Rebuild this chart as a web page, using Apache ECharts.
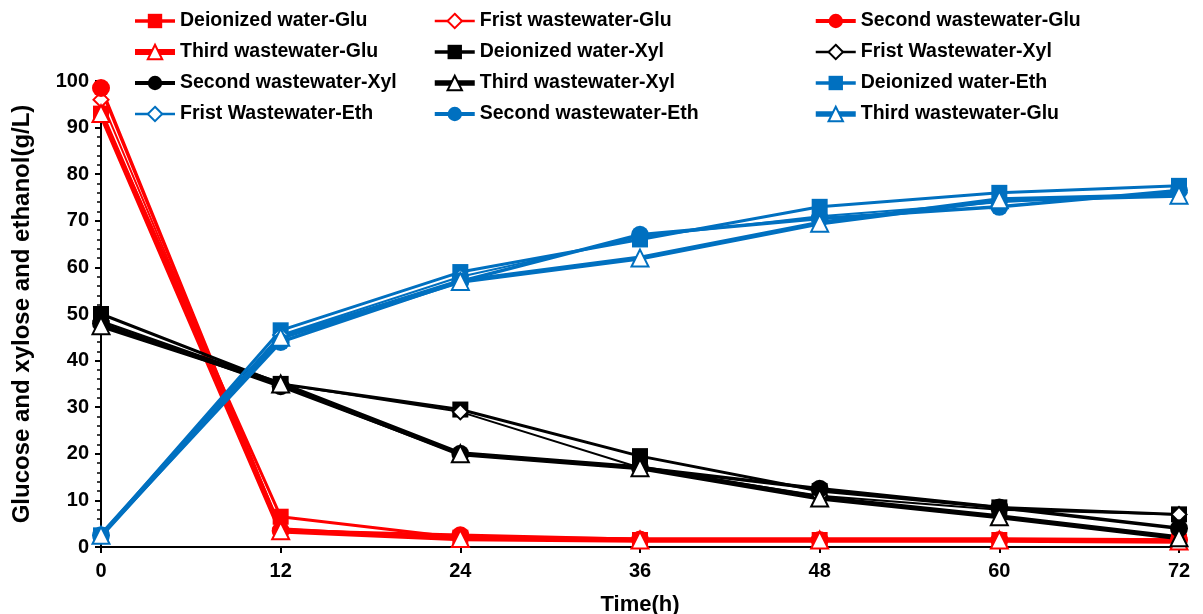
<!DOCTYPE html>
<html>
<head>
<meta charset="utf-8">
<script src="https://cdn.jsdelivr.net/npm/echarts@6/dist/echarts.min.js"></script>
<style>html,body{margin:0;padding:0;background:#fff}#c{width:1203px;height:614px}</style>
</head>
<body>
<div id="c"></div>
<script>
const hours = [0, 12, 24, 36, 48, 60, 72];
const xTicks = [0, 12, 24, 36, 48, 60, 72];
const yTicks = [0, 10, 20, 30, 40, 50, 60, 70, 80, 90, 100];

const gluDeionized = [93, 6.5, 2, 1.5, 1.5, 1.5, 1.2];
const gluFirst = [96, 4, 1.8, 1.5, 1.5, 1.5, 1.5];
const gluSecond = [98.5, 3.5, 2.5, 1.6, 1.5, 1.5, 1.5];
const gluThird = [93, 3.5, 1.8, 1.5, 1.5, 1.5, 1.3];

const xylDeionized = [50, 35, 29.5, 19.5, 12, 8.5, 7];
const xylFirst = [48.5, 35, 29, 17, 11, 8, 7];
const xylSecond = [48, 34.5, 20, 17, 12.5, 8.5, 4];
const xylThird = [47.5, 35, 20, 17, 10.5, 6.5, 2];

const ethDeionized = [2.5, 46.5, 59, 66, 73, 76, 77.5];
const ethFirst = [2.5, 45.5, 58, 66.5, 71, 74, 76];
const ethSecond = [2.5, 44, 57, 67, 70.5, 73, 76.5];
const ethThird = [2.5, 45, 57, 62, 69.5, 74.5, 75.5];

const RED = '#FF0000', BLACK = '#000000', BLUE = '#0070C0';
const FONT = 'Liberation Sans, Arial, sans-serif';

function pts(arr) { return hours.map((h, i) => [h, arr[i]]); }

const widths = {};
function mk(name, arr, color, kind, lw) {
  let symbol, size, filled = true;
  if (kind === 'sq') { symbol = 'rect'; size = 16; }
  else if (kind === 'ci') { symbol = 'circle'; size = 18; }
  else if (kind === 'di') { symbol = 'diamond'; size = 15; filled = false; }
  else { symbol = 'triangle'; size = 17; filled = false; }
  widths[name] = lw;
  return {
    name: name, type: 'line', data: pts(arr),
    symbol: symbol, symbolSize: size,
    lineStyle: { color: color, width: lw },
    itemStyle: { color: filled ? color : '#ffffff', borderColor: color, borderWidth: filled ? 0 : 2 },
    emphasis: { disabled: true },
    animation: false, z: 2
  };
}

const series = [
  mk('Deionized water-Glu', gluDeionized, RED, 'sq', 3),
  mk('Frist wastewater-Glu', gluFirst, RED, 'di', 2),
  mk('Second wastewater-Glu', gluSecond, RED, 'ci', 3.5),
  mk('Third wastewater-Glu', gluThird, RED, 'tr', 5.5),
  mk('Deionized water-Xyl', xylDeionized, BLACK, 'sq', 3),
  mk('Frist Wastewater-Xyl', xylFirst, BLACK, 'di', 2),
  mk('Second wastewater-Xyl', xylSecond, BLACK, 'ci', 3.5),
  mk('Third wastewater-Xyl', xylThird, BLACK, 'tr', 5),
  mk('Deionized water-Eth', ethDeionized, BLUE, 'sq', 3),
  mk('Frist Wastewater-Eth', ethFirst, BLUE, 'di', 2),
  mk('Second wastewater-Eth', ethSecond, BLUE, 'ci', 3.5),
  mk('Third wastewater-Glu ', ethThird, BLUE, 'tr', 5)
];

const legendText = { color: '#000', fontFamily: FONT, fontWeight: 'bold', fontSize: 19.5 };
function lg(left, names) {
  return {
    orient: 'vertical', left: left, top: 6, itemWidth: 40, itemHeight: 18, itemGap: 11,
    data: names.map(n => ({ name: n, lineStyle: { width: widths[n] + 0.5 } })),
    textStyle: legendText, selectedMode: false
  };
}

const chart = echarts.init(document.getElementById('c'), null, { renderer: 'canvas' });
chart.setOption({
  backgroundColor: '#ffffff',
  animation: false,
  grid: { left: 101, right: 24, top: 81, bottom: 67, outerBoundsMode: 'none', containLabel: false },
  legend: [
    lg(127, ['Deionized water-Glu', 'Third wastewater-Glu', 'Second wastewater-Xyl', 'Frist Wastewater-Eth']),
    lg(427, ['Frist wastewater-Glu', 'Deionized water-Xyl', 'Third wastewater-Xyl', 'Second wastewater-Eth']),
    lg(808, ['Second wastewater-Glu', 'Frist Wastewater-Xyl', 'Deionized water-Eth', 'Third wastewater-Glu '])
  ],
  xAxis: {
    type: 'value', min: xTicks[0], max: xTicks[xTicks.length - 1], interval: 12,
    name: 'Time(h)', nameLocation: 'middle', nameGap: 47,
    nameTextStyle: { color: '#000', fontFamily: FONT, fontWeight: 'bold', fontSize: 22 },
    axisLine: { lineStyle: { color: '#000', width: 2 } },
    axisTick: { show: true, inside: false, length: 6, lineStyle: { color: '#000', width: 2 } },
    axisLabel: { color: '#000', fontFamily: FONT, fontWeight: 'bold', fontSize: 20, margin: 14 },
    splitLine: { show: false }
  },
  yAxis: {
    type: 'value', min: yTicks[0], max: yTicks[yTicks.length - 1], interval: 10,
    name: 'Glucose and xylose and ethanol(g/L)', nameLocation: 'middle', nameGap: 67, nameRotate: 90,
    nameTextStyle: { color: '#000', fontFamily: FONT, fontWeight: 'bold', fontSize: 24 },
    axisLine: { show: true, lineStyle: { color: '#000', width: 2 } },
    axisTick: { show: true, inside: false, length: 6, lineStyle: { color: '#000', width: 2 } },
    minorTick: { show: true, splitNumber: 5, length: 4, lineStyle: { color: '#000', width: 1.5 } },
    axisLabel: { color: '#000', fontFamily: FONT, fontWeight: 'bold', fontSize: 20, margin: 12 },
    splitLine: { show: false }
  },
  series: series
});
</script>
</body>
</html>
